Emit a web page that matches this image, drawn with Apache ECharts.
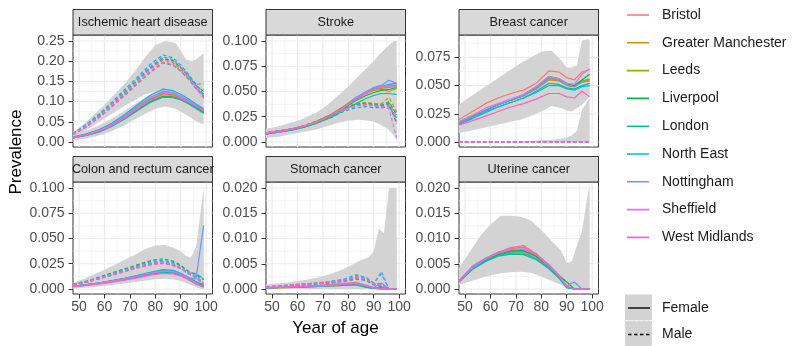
<!DOCTYPE html>
<html>
<head>
<meta charset="utf-8">
<title>Prevalence by year of age</title>
<script src="https://cdn.jsdelivr.net/npm/echarts@6/dist/echarts.min.js"></script>
<style>
  html, body { margin: 0; padding: 0; background: #fff; }
  #chart { width: 807px; height: 346px; }
</style>
</head>
<body>
<div id="chart"></div>
<script>
// ---- data ----
const CITIES = ['Bristol', 'Greater Manchester', 'Leeds', 'Liverpool', 'London',
  'North East', 'Nottingham', 'Sheffield', 'West Midlands'];
const CITY_COLORS = ['#F8766D', '#D39200', '#93AA00', '#00BA38', '#00C19F',
  '#00B9E3', '#619CFF', '#DB72FB', '#FF61C3'];
const SEXES = ['Female', 'Male'];

const AGE_TICKS = [50, 60, 70, 80, 90, 100];
const IHD_TICKS = [0, 0.05, 0.1, 0.15, 0.2, 0.25];
const STROKE_TICKS = [0, 0.025, 0.05, 0.075, 0.1];
const BREAST_TICKS = [0, 0.025, 0.05, 0.075];
const COLON_TICKS = [0, 0.025, 0.05, 0.075, 0.1];
const STOMACH_TICKS = [0, 0.005, 0.01, 0.015, 0.02];
const UTERINE_TICKS = [0, 0.005, 0.01, 0.015, 0.02];

const LINE_AGES = [47.6, 53, 58, 63, 68, 73, 78, 83, 87, 90, 93, 96, 99];
const RIBBON_AGES = [47.6, 52, 56, 60, 64, 68, 72, 76, 80, 84, 88, 90, 92, 94, 96, 98, 99];

// one row per city, same order as CITIES
const IHD_FEMALE = [
  [0.011, 0.018, 0.028, 0.043, 0.062, 0.084, 0.105, 0.119, 0.116, 0.108, 0.098, 0.086, 0.076],
  [0.012, 0.019, 0.030, 0.045, 0.065, 0.088, 0.110, 0.124, 0.120, 0.111, 0.101, 0.089, 0.078],
  [0.011, 0.018, 0.028, 0.043, 0.062, 0.085, 0.106, 0.120, 0.117, 0.109, 0.099, 0.087, 0.075],
  [0.010, 0.017, 0.026, 0.040, 0.058, 0.080, 0.100, 0.113, 0.112, 0.106, 0.097, 0.085, 0.072],
  [0.010, 0.016, 0.025, 0.039, 0.057, 0.078, 0.098, 0.111, 0.110, 0.104, 0.095, 0.083, 0.071],
  [0.012, 0.020, 0.031, 0.047, 0.068, 0.092, 0.115, 0.131, 0.127, 0.118, 0.107, 0.094, 0.082],
  [0.011, 0.019, 0.029, 0.044, 0.064, 0.087, 0.109, 0.126, 0.123, 0.114, 0.103, 0.091, 0.080],
  [0.011, 0.018, 0.029, 0.044, 0.063, 0.086, 0.108, 0.123, 0.121, 0.112, 0.101, 0.089, 0.079],
  [0.011, 0.017, 0.027, 0.041, 0.060, 0.082, 0.103, 0.117, 0.115, 0.108, 0.099, 0.088, 0.078]
];
const IHD_MALE = [
  [0.018, 0.038, 0.062, 0.089, 0.117, 0.146, 0.175, 0.198, 0.192, 0.176, 0.157, 0.132, 0.118],
  [0.020, 0.042, 0.067, 0.096, 0.125, 0.155, 0.184, 0.206, 0.200, 0.183, 0.163, 0.142, 0.145],
  [0.019, 0.040, 0.064, 0.092, 0.120, 0.150, 0.180, 0.203, 0.196, 0.179, 0.160, 0.137, 0.130],
  [0.020, 0.041, 0.066, 0.094, 0.123, 0.153, 0.183, 0.207, 0.201, 0.184, 0.164, 0.140, 0.125],
  [0.018, 0.038, 0.061, 0.088, 0.115, 0.144, 0.172, 0.195, 0.190, 0.175, 0.156, 0.132, 0.115],
  [0.021, 0.044, 0.070, 0.099, 0.130, 0.161, 0.192, 0.216, 0.208, 0.190, 0.168, 0.143, 0.118],
  [0.020, 0.042, 0.067, 0.096, 0.126, 0.156, 0.187, 0.211, 0.204, 0.186, 0.165, 0.140, 0.112],
  [0.019, 0.040, 0.064, 0.092, 0.121, 0.151, 0.181, 0.204, 0.198, 0.181, 0.161, 0.136, 0.110],
  [0.018, 0.038, 0.061, 0.088, 0.116, 0.145, 0.174, 0.196, 0.191, 0.176, 0.157, 0.133, 0.108]
];
const IHD_F_LO = [0.004, 0.008, 0.013, 0.020, 0.030, 0.042, 0.056, 0.070, 0.082, 0.088, 0.082, 0.075, 0.068, 0.060, 0.052, 0.046, 0.044];
const IHD_F_HI = [0.018, 0.026, 0.036, 0.048, 0.062, 0.078, 0.094, 0.110, 0.126, 0.135, 0.130, 0.125, 0.118, 0.110, 0.100, 0.092, 0.090];
const IHD_M_LO = [0.012, 0.026, 0.042, 0.058, 0.074, 0.090, 0.104, 0.118, 0.125, 0.130, 0.125, 0.118, 0.110, 0.100, 0.090, 0.080, 0.078];
const IHD_M_HI = [0.024, 0.045, 0.068, 0.092, 0.118, 0.145, 0.175, 0.210, 0.240, 0.250, 0.245, 0.225, 0.205, 0.200, 0.205, 0.215, 0.220];

const STROKE_FEMALE = [
  [0.009, 0.011, 0.013, 0.016, 0.020, 0.026, 0.034, 0.043, 0.049, 0.052, 0.054, 0.055, 0.056],
  [0.009, 0.011, 0.013, 0.016, 0.021, 0.027, 0.035, 0.043, 0.048, 0.051, 0.052, 0.050, 0.053],
  [0.009, 0.011, 0.013, 0.016, 0.021, 0.027, 0.035, 0.044, 0.049, 0.052, 0.053, 0.054, 0.055],
  [0.008, 0.010, 0.012, 0.015, 0.019, 0.025, 0.033, 0.041, 0.046, 0.049, 0.051, 0.052, 0.054],
  [0.008, 0.010, 0.012, 0.015, 0.019, 0.024, 0.031, 0.038, 0.043, 0.046, 0.048, 0.048, 0.047],
  [0.009, 0.011, 0.013, 0.016, 0.020, 0.026, 0.034, 0.043, 0.049, 0.053, 0.055, 0.057, 0.058],
  [0.009, 0.011, 0.013, 0.016, 0.020, 0.026, 0.034, 0.044, 0.050, 0.054, 0.056, 0.061, 0.058],
  [0.009, 0.011, 0.013, 0.016, 0.020, 0.026, 0.034, 0.043, 0.049, 0.052, 0.054, 0.055, 0.054],
  [0.009, 0.011, 0.013, 0.016, 0.020, 0.026, 0.034, 0.042, 0.048, 0.052, 0.055, 0.056, 0.056]
];
const STROKE_MALE = [
  [0.008, 0.010, 0.013, 0.016, 0.020, 0.026, 0.032, 0.037, 0.038, 0.038, 0.037, 0.038, 0.025],
  [0.008, 0.010, 0.013, 0.017, 0.021, 0.027, 0.033, 0.038, 0.039, 0.038, 0.038, 0.044, 0.030],
  [0.008, 0.010, 0.013, 0.016, 0.021, 0.027, 0.033, 0.038, 0.039, 0.038, 0.037, 0.039, 0.028],
  [0.008, 0.010, 0.013, 0.016, 0.020, 0.026, 0.032, 0.037, 0.038, 0.037, 0.036, 0.038, 0.018],
  [0.008, 0.010, 0.012, 0.015, 0.019, 0.024, 0.030, 0.034, 0.035, 0.034, 0.034, 0.035, 0.024],
  [0.008, 0.010, 0.013, 0.016, 0.020, 0.026, 0.032, 0.037, 0.038, 0.037, 0.036, 0.040, 0.027],
  [0.008, 0.010, 0.013, 0.016, 0.020, 0.026, 0.032, 0.036, 0.037, 0.036, 0.035, 0.036, 0.022],
  [0.008, 0.010, 0.013, 0.016, 0.020, 0.026, 0.032, 0.036, 0.037, 0.036, 0.034, 0.033, 0.004],
  [0.008, 0.010, 0.013, 0.016, 0.020, 0.026, 0.031, 0.036, 0.037, 0.036, 0.035, 0.036, 0.020]
];
const STROKE_F_LO = [0.005, 0.006, 0.008, 0.009, 0.011, 0.013, 0.016, 0.019, 0.022, 0.025, 0.025, 0.025, 0.024, 0.022, 0.018, 0.011, 0.007];
const STROKE_F_HI = [0.013, 0.015, 0.018, 0.021, 0.025, 0.030, 0.037, 0.046, 0.055, 0.065, 0.075, 0.080, 0.086, 0.091, 0.096, 0.100, 0.100];
const STROKE_M_LO = [0.004, 0.005, 0.007, 0.009, 0.011, 0.013, 0.016, 0.019, 0.021, 0.022, 0.021, 0.020, 0.018, 0.015, 0.012, 0.006, 0.001];
const STROKE_M_HI = [0.011, 0.013, 0.016, 0.019, 0.023, 0.028, 0.034, 0.040, 0.046, 0.052, 0.058, 0.062, 0.065, 0.070, 0.075, 0.078, 0.075];

const BREAST_FEMALE = [
  [0.020, 0.027, 0.034, 0.039, 0.043, 0.046, 0.052, 0.063, 0.062, 0.057, 0.055, 0.062, 0.064],
  [0.018, 0.023, 0.028, 0.033, 0.037, 0.041, 0.047, 0.055, 0.054, 0.050, 0.049, 0.053, 0.055],
  [0.018, 0.023, 0.028, 0.033, 0.037, 0.041, 0.048, 0.057, 0.055, 0.051, 0.049, 0.054, 0.056],
  [0.017, 0.022, 0.028, 0.033, 0.037, 0.042, 0.049, 0.058, 0.056, 0.052, 0.050, 0.055, 0.060],
  [0.016, 0.021, 0.026, 0.031, 0.035, 0.039, 0.045, 0.052, 0.051, 0.048, 0.047, 0.050, 0.052],
  [0.016, 0.021, 0.027, 0.031, 0.035, 0.039, 0.044, 0.050, 0.050, 0.047, 0.046, 0.049, 0.050],
  [0.017, 0.022, 0.028, 0.033, 0.037, 0.041, 0.047, 0.056, 0.055, 0.051, 0.049, 0.053, 0.054],
  [0.018, 0.024, 0.030, 0.034, 0.038, 0.042, 0.049, 0.058, 0.056, 0.052, 0.051, 0.060, 0.065],
  [0.015, 0.019, 0.023, 0.027, 0.031, 0.034, 0.038, 0.043, 0.043, 0.040, 0.039, 0.045, 0.040]
];
const BREAST_MALE = [0, 0, 0, 0, 0, 0, 0, 0, 0, 0, 0, 0, 0];
const BREAST_F_LO = [0.008, 0.010, 0.012, 0.014, 0.016, 0.018, 0.020, 0.023, 0.027, 0.032, 0.030, 0.028, 0.027, 0.030, 0.033, 0.038, 0.040];
const BREAST_F_HI = [0.033, 0.040, 0.046, 0.052, 0.058, 0.064, 0.070, 0.075, 0.080, 0.081, 0.072, 0.066, 0.066, 0.068, 0.090, 0.091, 0.091];
const BREAST_M_LO = [0, 0, 0, 0, 0, 0, 0, 0, 0, 0, 0, 0, 0, 0, 0, 0, 0];
const BREAST_M_HI = [0, 0, 0, 0, 0, 0, 0.0005, 0.001, 0.0015, 0.002, 0.003, 0.004, 0.006, 0.010, 0.028, 0.036, 0.038];

const COLON_FEMALE = [
  [0.0025, 0.0040, 0.0056, 0.0076, 0.0097, 0.0122, 0.0150, 0.0172, 0.0165, 0.0140, 0.0100, 0.0060, 0.0030],
  [0.0026, 0.0042, 0.0059, 0.0080, 0.0102, 0.0128, 0.0158, 0.0180, 0.0172, 0.0145, 0.0105, 0.0050, 0.0040],
  [0.0025, 0.0040, 0.0056, 0.0077, 0.0098, 0.0124, 0.0152, 0.0175, 0.0168, 0.0142, 0.0102, 0.0060, 0.0020],
  [0.0026, 0.0042, 0.0059, 0.0080, 0.0103, 0.0130, 0.0160, 0.0185, 0.0178, 0.0150, 0.0110, 0.0070, 0.0030],
  [0.0024, 0.0038, 0.0053, 0.0072, 0.0092, 0.0116, 0.0143, 0.0165, 0.0160, 0.0135, 0.0098, 0.0050, 0.0020],
  [0.0027, 0.0043, 0.0061, 0.0083, 0.0106, 0.0134, 0.0165, 0.0192, 0.0185, 0.0156, 0.0115, 0.0070, 0.0040],
  [0.0026, 0.0041, 0.0058, 0.0079, 0.0101, 0.0127, 0.0157, 0.0180, 0.0175, 0.0148, 0.0110, 0.0100, 0.0630],
  [0.0025, 0.0040, 0.0057, 0.0078, 0.0100, 0.0126, 0.0155, 0.0178, 0.0170, 0.0143, 0.0103, 0.0060, 0.0020],
  [0.0023, 0.0036, 0.0050, 0.0068, 0.0088, 0.0110, 0.0136, 0.0155, 0.0150, 0.0128, 0.0092, 0.0050, 0.0020]
];
const COLON_MALE = [
  [0.0042, 0.0068, 0.0103, 0.0140, 0.0175, 0.0212, 0.0243, 0.0258, 0.0235, 0.0205, 0.0160, 0.0150, 0.0100],
  [0.0044, 0.0071, 0.0108, 0.0146, 0.0183, 0.0221, 0.0253, 0.0268, 0.0243, 0.0210, 0.0158, 0.0120, 0.0050],
  [0.0043, 0.0069, 0.0105, 0.0143, 0.0179, 0.0216, 0.0248, 0.0262, 0.0240, 0.0208, 0.0155, 0.0110, 0.0040],
  [0.0047, 0.0077, 0.0118, 0.0160, 0.0200, 0.0240, 0.0280, 0.0300, 0.0275, 0.0235, 0.0175, 0.0140, 0.0090],
  [0.0042, 0.0068, 0.0103, 0.0140, 0.0176, 0.0212, 0.0244, 0.0259, 0.0236, 0.0205, 0.0152, 0.0120, 0.0050],
  [0.0045, 0.0074, 0.0113, 0.0153, 0.0192, 0.0232, 0.0268, 0.0285, 0.0262, 0.0226, 0.0170, 0.0150, 0.0100],
  [0.0044, 0.0071, 0.0108, 0.0146, 0.0183, 0.0222, 0.0256, 0.0272, 0.0250, 0.0215, 0.0162, 0.0130, 0.0060],
  [0.0043, 0.0069, 0.0105, 0.0143, 0.0179, 0.0217, 0.0250, 0.0265, 0.0243, 0.0210, 0.0157, 0.0120, 0.0050],
  [0.0041, 0.0066, 0.0100, 0.0136, 0.0171, 0.0207, 0.0238, 0.0252, 0.0230, 0.0200, 0.0150, 0.0110, 0.0040]
];
const COLON_F_LO = [0.0005, 0.0012, 0.0020, 0.0030, 0.0042, 0.0055, 0.0068, 0.0082, 0.0095, 0.0100, 0.0092, 0.0080, 0.0060, 0.0040, 0.0020, 0, 0];
const COLON_F_HI = [0.0045, 0.0070, 0.0095, 0.0125, 0.0155, 0.0185, 0.0215, 0.0245, 0.0270, 0.0275, 0.0250, 0.0230, 0.0220, 0.0250, 0.0400, 0.0800, 0.1000];
const COLON_M_LO = [0.0010, 0.0022, 0.0038, 0.0055, 0.0072, 0.0090, 0.0108, 0.0120, 0.0128, 0.0125, 0.0110, 0.0095, 0.0075, 0.0050, 0.0030, 0.0010, 0];
const COLON_M_HI = [0.0060, 0.0100, 0.0145, 0.0190, 0.0240, 0.0290, 0.0340, 0.0395, 0.0430, 0.0435, 0.0400, 0.0370, 0.0330, 0.0310, 0.0420, 0.0600, 0.0700];

const STOMACH_FEMALE = [
  [0.0002, 0.0003, 0.0003, 0.0004, 0.0005, 0.0006, 0.0008, 0.0010, 0.0006, 0.0002, 0.0001, 0, 0],
  [0.0002, 0.0002, 0.0003, 0.0004, 0.0005, 0.0006, 0.0007, 0.0009, 0.0005, 0.0001, 0, 0, 0],
  [0.0002, 0.0003, 0.0003, 0.0004, 0.0005, 0.0007, 0.0008, 0.0010, 0.0004, 0.0001, 0, 0, 0],
  [0.0002, 0.0003, 0.0004, 0.0005, 0.0006, 0.0007, 0.0009, 0.0011, 0.0005, 0.0002, 0.0003, 0, 0],
  [0.0002, 0.0003, 0.0003, 0.0004, 0.0005, 0.0006, 0.0007, 0.0008, 0.0003, 0.0001, 0, 0, 0],
  [0.0002, 0.0003, 0.0004, 0.0005, 0.0006, 0.0008, 0.0009, 0.0012, 0.0006, 0.0002, 0.0004, 0, 0],
  [0.0002, 0.0003, 0.0004, 0.0005, 0.0006, 0.0007, 0.0009, 0.0011, 0.0006, 0.0003, 0.0012, 0, 0],
  [0.0002, 0.0003, 0.0004, 0.0005, 0.0006, 0.0007, 0.0009, 0.0011, 0.0006, 0.0002, 0, 0, 0],
  [0.0003, 0.0004, 0.0005, 0.0006, 0.0007, 0.0009, 0.0011, 0.0013, 0.0008, 0.0003, 0.0001, 0, 0]
];
const STOMACH_MALE = [
  [0.0004, 0.0006, 0.0007, 0.0009, 0.0011, 0.0013, 0.0016, 0.0020, 0.0018, 0.0010, 0.0008, 0, 0],
  [0.0004, 0.0005, 0.0007, 0.0009, 0.0011, 0.0013, 0.0016, 0.0022, 0.0020, 0.0010, 0.0005, 0, 0],
  [0.0004, 0.0005, 0.0007, 0.0008, 0.0010, 0.0013, 0.0016, 0.0021, 0.0019, 0.0009, 0.0006, 0, 0],
  [0.0004, 0.0006, 0.0008, 0.0010, 0.0012, 0.0015, 0.0018, 0.0024, 0.0021, 0.0011, 0.0010, 0, 0],
  [0.0004, 0.0005, 0.0007, 0.0008, 0.0010, 0.0012, 0.0015, 0.0019, 0.0017, 0.0008, 0.0005, 0, 0],
  [0.0005, 0.0006, 0.0008, 0.0010, 0.0012, 0.0015, 0.0019, 0.0028, 0.0023, 0.0012, 0.0030, 0, 0],
  [0.0004, 0.0006, 0.0008, 0.0010, 0.0012, 0.0014, 0.0018, 0.0024, 0.0021, 0.0010, 0.0035, 0, 0],
  [0.0004, 0.0006, 0.0007, 0.0009, 0.0011, 0.0014, 0.0017, 0.0023, 0.0020, 0.0010, 0.0008, 0, 0],
  [0.0004, 0.0006, 0.0008, 0.0010, 0.0012, 0.0015, 0.0018, 0.0025, 0.0022, 0.0011, 0.0007, 0, 0]
];
const STOMACH_F_LO = [0, 0, 0, 0, 0, 0, 0, 0, 0, 0, 0, 0, 0, 0, 0, 0, 0];
const STOMACH_F_HI = [0.0006, 0.0007, 0.0009, 0.0010, 0.0012, 0.0014, 0.0016, 0.0019, 0.0022, 0.0025, 0.0020, 0.0015, 0.0030, 0.0060, 0.0080, 0.0100, 0.0100];
const STOMACH_M_LO = [0, 0, 0, 0, 0, 0, 0, 0, 0, 0, 0, 0, 0, 0, 0, 0, 0];
const STOMACH_M_HI = [0.0009, 0.0011, 0.0013, 0.0016, 0.0019, 0.0023, 0.0028, 0.0035, 0.0044, 0.0055, 0.0063, 0.0075, 0.0120, 0.0110, 0.0200, 0.0200, 0.0200];

const UTERINE_FEMALE = [
  [0.0016, 0.0044, 0.0060, 0.0072, 0.0082, 0.0086, 0.0070, 0.0047, 0.0027, 0.0006, 0, 0, 0],
  [0.0015, 0.0041, 0.0056, 0.0067, 0.0073, 0.0074, 0.0063, 0.0043, 0.0024, 0.0004, 0, 0, 0],
  [0.0015, 0.0042, 0.0058, 0.0069, 0.0076, 0.0077, 0.0066, 0.0045, 0.0025, 0.0005, 0, 0, 0],
  [0.0014, 0.0040, 0.0056, 0.0068, 0.0075, 0.0076, 0.0065, 0.0046, 0.0027, 0.0014, 0, 0, 0],
  [0.0014, 0.0039, 0.0054, 0.0065, 0.0069, 0.0068, 0.0058, 0.0040, 0.0021, 0.0002, 0, 0, 0],
  [0.0014, 0.0040, 0.0055, 0.0066, 0.0071, 0.0071, 0.0060, 0.0041, 0.0022, 0.0003, 0, 0, 0],
  [0.0016, 0.0046, 0.0061, 0.0073, 0.0079, 0.0079, 0.0069, 0.0048, 0.0027, 0.0006, 0.0014, 0, 0],
  [0.0015, 0.0043, 0.0059, 0.0071, 0.0078, 0.0079, 0.0068, 0.0046, 0.0026, 0.0005, 0, 0, 0],
  [0.0015, 0.0043, 0.0060, 0.0072, 0.0080, 0.0083, 0.0069, 0.0046, 0.0026, 0.0005, 0, 0, 0]
];
const UTERINE_F_LO = [0.0008, 0.0015, 0.0022, 0.0027, 0.0031, 0.0033, 0.0034, 0.0032, 0.0025, 0.0016, 0.0008, 0.0002, 0, 0, 0, 0, 0];
const UTERINE_F_HI = [0.0041, 0.0075, 0.0105, 0.0128, 0.0145, 0.0145, 0.0143, 0.0135, 0.0117, 0.0095, 0.0075, 0.0051, 0.0055, 0.0085, 0.0115, 0.0180, 0.0205];

// ---- panels ----
const PANELS = [
  { title: 'Ischemic heart disease', female: IHD_FEMALE, male: IHD_MALE,
    ribbons: [[IHD_F_LO, IHD_F_HI], [IHD_M_LO, IHD_M_HI]], ticks: IHD_TICKS, digits: 2, min: -0.0124, max: 0.2649 },
  { title: 'Stroke', female: STROKE_FEMALE, male: STROKE_MALE,
    ribbons: [[STROKE_F_LO, STROKE_F_HI], [STROKE_M_LO, STROKE_M_HI]], ticks: STROKE_TICKS, digits: 3, min: -0.00495, max: 0.1059 },
  { title: 'Breast cancer', female: BREAST_FEMALE, male: CITIES.map(() => BREAST_MALE),
    ribbons: [[BREAST_F_LO, BREAST_F_HI], [BREAST_M_LO, BREAST_M_HI]], ticks: BREAST_TICKS, digits: 3, min: -0.0044, max: 0.0948 },
  { title: 'Colon and rectum cancer', female: COLON_FEMALE, male: COLON_MALE,
    ribbons: [[COLON_F_LO, COLON_F_HI], [COLON_M_LO, COLON_M_HI]], ticks: COLON_TICKS, digits: 3, min: -0.005, max: 0.106 },
  { title: 'Stomach cancer', female: STOMACH_FEMALE, male: STOMACH_MALE,
    ribbons: [[STOMACH_F_LO, STOMACH_F_HI], [STOMACH_M_LO, STOMACH_M_HI]], ticks: STOMACH_TICKS, digits: 3, min: -0.00099, max: 0.0212 },
  { title: 'Uterine cancer', female: UTERINE_FEMALE, male: null,
    ribbons: [[UTERINE_F_LO, UTERINE_F_HI]], ticks: UTERINE_TICKS, digits: 3, min: -0.00099, max: 0.0212 }
];

// ---- layout ----
const FONT = '"Liberation Sans", Arial, Helvetica, sans-serif';
const X_MIN = 47.63, X_MAX = 102.49;
const COL_X = [73, 266, 459];
const ROW_Y = [35, 182];
const PANEL_W = 139.5, PANEL_H = 112, STRIP_H = 25.5;
const RIBBON_FILL = '#d3d3d3';
const MALE_DASH = [3.5, 2.5];
// plain line key (tiny corner specks fix the path's box to 22 x 14)
const LINE_KEY = 'path://M0,0L0.01,0L0.01,0.01Z M0,6.2H22V7.8H0Z M22,14L21.99,14L21.99,13.99Z';

const minorOf = (ticks, max) => {
  const step = ticks[1] - ticks[0];
  return ticks.map(t => t + step / 2).filter(v => v < max);
};

const chart = echarts.init(document.getElementById('chart'));

const grids = [], xAxes = [], yAxes = [], series = [], graphics = [];

PANELS.forEach((p, i) => {
  const col = i % 3, row = Math.floor(i / 3);
  const left = COL_X[col], top = ROW_Y[row];
  const bottomRow = row === 1;

  grids.push({ left, top, width: PANEL_W, height: PANEL_H, show: true,
    backgroundColor: '#fff', borderColor: '#333333', borderWidth: 1 });

  xAxes.push({ gridIndex: i, type: 'value', min: X_MIN, max: X_MAX,
    axisLine: { show: false, onZero: false }, splitLine: { show: false },
    axisTick: { show: bottomRow, customValues: AGE_TICKS, length: 4.5, lineStyle: { color: '#333333', width: 1 } },
    axisLabel: { show: bottomRow, customValues: AGE_TICKS, color: '#4d4d4d', fontSize: 14, fontFamily: FONT, margin: 6 } });

  yAxes.push({ gridIndex: i, type: 'value', min: p.min, max: p.max,
    axisLine: { show: false, onZero: false }, splitLine: { show: false },
    axisTick: { show: true, customValues: p.ticks, length: 4.5, lineStyle: { color: '#333333', width: 1 } },
    axisLabel: { customValues: p.ticks, color: '#4d4d4d', fontSize: 14, fontFamily: FONT, margin: 8.5,
      formatter: v => v.toFixed(p.digits) } });

  // panel grid lines (major + minor), drawn through the axis scales
  const gl = [];
  AGE_TICKS.forEach(v => gl.push([v, p.min, 0, 1]));
  minorOf(AGE_TICKS, X_MAX).forEach(v => gl.push([v, p.min, 0, 0]));
  p.ticks.forEach(v => gl.push([X_MIN, v, 1, 1]));
  minorOf(p.ticks, p.max).forEach(v => gl.push([X_MIN, v, 1, 0]));
  series.push({ type: 'custom', xAxisIndex: i, yAxisIndex: i, z: 1, silent: true, data: gl,
    renderItem: (params, api) => {
      const horiz = api.value(2) === 1;
      const a = horiz ? api.coord([X_MIN, api.value(1)]) : api.coord([api.value(0), p.min]);
      const b = horiz ? api.coord([X_MAX, api.value(1)]) : api.coord([api.value(0), p.max]);
      return { type: 'line', shape: { x1: a[0], y1: a[1], x2: b[0], y2: b[1] },
        style: { stroke: '#ebebeb', lineWidth: api.value(3) === 1 ? 1.1 : 0.55 } };
    } });

  // grey ribbons
  p.ribbons.forEach(([lo, hi]) => {
    series.push({ type: 'custom', xAxisIndex: i, yAxisIndex: i, z: 2, silent: true,
      data: RIBBON_AGES.map((a, j) => [a, lo[j], hi[j]]),
      encode: { x: 0, y: [1, 2] },
      renderItem: (params, api) => {
        if (params.dataIndexInside !== 0) return null;
        const n = params.dataInsideLength;
        const upper = [], lower = [];
        for (let j = 0; j < n; j++) {
          upper.push(api.coord([api.value(0, j), api.value(2, j)]));
          lower.unshift(api.coord([api.value(0, j), api.value(1, j)]));
        }
        return { type: 'polygon', shape: { points: upper.concat(lower) }, style: { fill: RIBBON_FILL } };
      } });
  });

  // city lines: female solid, male dashed
  CITIES.forEach((city, c) => {
    const sets = [[p.female[c], 'solid']];
    if (p.male) sets.push([p.male[c], MALE_DASH]);
    sets.forEach(([vals, dash]) => {
      series.push({ type: 'line', name: city, xAxisIndex: i, yAxisIndex: i, z: 3,
        data: LINE_AGES.map((a, j) => [a, vals[j]]),
        symbol: 'none', showSymbol: false, silent: true, emphasis: { disabled: true },
        itemStyle: { color: CITY_COLORS[c] },
        lineStyle: { color: CITY_COLORS[c], width: 1.2, type: dash } });
    });
  });

  // strip
  const sTop = top - STRIP_H;
  graphics.push({ type: 'rect', shape: { x: left, y: sTop, width: PANEL_W, height: STRIP_H },
    style: { fill: '#d9d9d9', stroke: '#333333', lineWidth: 1 }, z: 10 });
  graphics.push({ type: 'text', x: left + PANEL_W / 2, y: sTop + STRIP_H / 2 + 0.5, z: 11,
    style: { text: p.title, fill: '#1a1a1a', font: '12.7px ' + FONT, align: 'center', verticalAlign: 'middle' } });
});

// axis titles
graphics.push({ type: 'text', x: 16, y: 152, rotation: Math.PI / 2,
  style: { text: 'Prevalence', fill: '#000', font: '17px ' + FONT, align: 'center', verticalAlign: 'middle' } });
graphics.push({ type: 'text', x: 335.5, y: 328,
  style: { text: 'Year of age', fill: '#000', font: '17px ' + FONT, align: 'center', verticalAlign: 'middle' } });

// linetype legend (Female / Male)
SEXES.forEach((s, k) => {
  const y0 = 294.5 + k * 26.5;
  graphics.push({ type: 'rect', shape: { x: 625, y: y0, width: 27, height: 26 },
    style: { fill: RIBBON_FILL, stroke: k === 1 ? '#eeeeee' : null, lineWidth: 1, lineDash: k === 1 ? [3, 2] : null } });
  graphics.push({ type: 'line', shape: { x1: 628, y1: y0 + 13.5, x2: 650, y2: y0 + 13.5 },
    style: { stroke: '#000', lineWidth: 1.4, lineDash: k === 1 ? MALE_DASH : null } });
  graphics.push({ type: 'text', x: 662, y: y0 + 13.5,
    style: { text: s, fill: '#1a1a1a', font: '14px ' + FONT, align: 'left', verticalAlign: 'middle' } });
});

chart.setOption({
  animation: false,
  grid: grids,
  xAxis: xAxes,
  yAxis: yAxes,
  series,
  graphic: graphics,
  legend: {
    data: CITIES, orient: 'vertical', left: 627, top: 8, padding: 0,
    icon: LINE_KEY, itemWidth: 22, itemHeight: 14, itemGap: 13.8, selectedMode: false,
    textStyle: { fontSize: 14, color: '#1a1a1a', fontFamily: FONT, lineHeight: 14, padding: [0, 0, 0, 8] }
  }
});
</script>
</body>
</html>
